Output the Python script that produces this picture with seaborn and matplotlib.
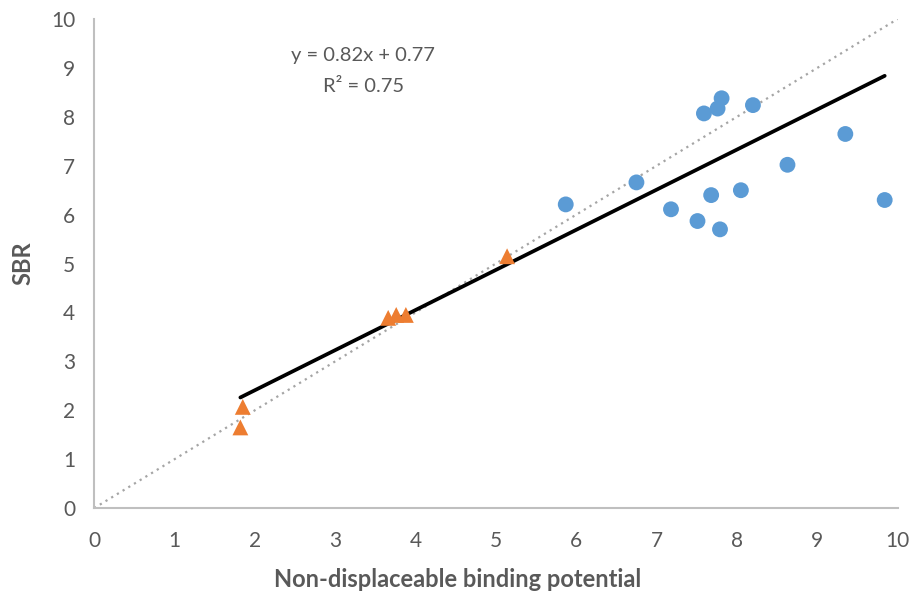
import matplotlib
matplotlib.use("Agg")
import matplotlib.pyplot as plt
import seaborn as sns
import pandas as pd

# values
circle_ndbp = [5.87, 6.75, 7.18, 7.51, 7.59, 7.68, 7.76, 7.81, 7.79, 8.05, 8.20, 8.63, 9.35, 9.84]
circle_sbr = [6.21, 6.66, 6.11, 5.87, 8.07, 6.40, 8.17, 8.38, 5.70, 6.50, 8.24, 7.02, 7.65, 6.30]
triangle_ndbp = [1.85, 1.82, 3.66, 3.76, 3.88, 5.14]
triangle_sbr = [2.07, 1.65, 3.89, 3.95, 3.95, 5.15]
identity = [0, 10]
fit_slope = 0.82
fit_intercept = 0.77
x_ticks = list(range(0, 11))
y_ticks = list(range(0, 11))
equation = "y = 0.82x + 0.77"
r_squared = "R² = 0.75"

df = pd.DataFrame({
    "ndbp": circle_ndbp + triangle_ndbp,
    "sbr": circle_sbr + triangle_sbr,
    "group": ["circle"] * len(circle_ndbp) + ["triangle"] * len(triangle_ndbp),
})

# trendline as reported on the chart, spanning the data range
fit_x = [df["ndbp"].min(), df["ndbp"].max()]
fit = pd.DataFrame({"ndbp": fit_x, "sbr": [fit_slope * v + fit_intercept for v in fit_x]})

sns.set_theme(style="white")
plt.rcParams["font.family"] = ["Lato", "DejaVu Sans"]
grey_text = "#595959"

fig = plt.figure(figsize=(9.14, 5.95), dpi=100)
ax = fig.add_axes([0.103, 0.146, 0.879, 0.822])

# identity line
ax.plot(identity, identity, color="#A5A5A5", linestyle=(0, (1, 2)), linewidth=1.6, zorder=1)

sns.lineplot(data=fit, x="ndbp", y="sbr", color="black", linewidth=2.7, zorder=2, ax=ax)

sns.scatterplot(data=df, x="ndbp", y="sbr", hue="group", style="group",
                palette={"circle": "#5B9BD5", "triangle": "#ED7D31"},
                markers={"circle": "o", "triangle": "^"},
                s=130, linewidth=0, legend=False, zorder=3, ax=ax)

ax.text(3.35, 9.26, equation, ha="center", va="center", fontsize=14.5, color=grey_text)
ax.text(3.35, 8.63, r_squared, ha="center", va="center", fontsize=14.5, color=grey_text)

ax.set_xlim(0, 10)
ax.set_ylim(0, 10)
ax.set_xticks(x_ticks)
ax.set_yticks(y_ticks)
ax.tick_params(axis="both", length=0, labelsize=15, labelcolor=grey_text)
ax.tick_params(axis="x", pad=16.5)
ax.tick_params(axis="y", pad=13.5)
ax.set_xlabel("Non-displaceable binding potential", fontsize=17, fontweight="bold",
              color=grey_text, labelpad=12, x=0.452)
ax.set_ylabel("SBR", fontsize=17, fontweight="bold", color=grey_text, labelpad=12)

for side in ["top", "right"]:
    ax.spines[side].set_visible(False)
for side in ["left", "bottom"]:
    ax.spines[side].set_color("#BFBFBF")
    ax.spines[side].set_linewidth(1.5)

fig.savefig("out.png", dpi=100)
